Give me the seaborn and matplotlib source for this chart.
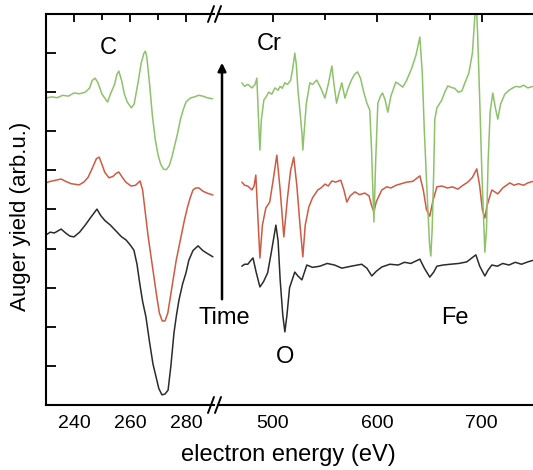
import matplotlib
matplotlib.use("Agg")
import matplotlib.pyplot as plt
from matplotlib.lines import Line2D
from matplotlib.patches import FancyArrowPatch
import numpy as np
import pandas as pd
import seaborn as sns

# ---------------- data ----------------
# Left panel: C KLL region (eV)
c_green_E = [230, 232, 234, 236, 238, 240, 242, 244, 245.5, 246.5, 247.5, 248.5, 250, 251, 252, 253,
             254.5, 255.3, 256, 257, 258, 259, 260.5, 261.5, 262, 263, 264, 265, 265.5, 266, 267,
             268, 269, 270, 271, 272, 273, 274, 275, 276, 277, 278, 279, 280, 281.5, 283, 284.5,
             286, 287.5, 289.5]
c_green_y = [7.85, 7.88, 7.86, 7.92, 7.9, 7.98, 7.96, 8.0, 8.1, 8.3, 8.36, 8.25, 7.95, 7.85, 7.75, 7.95,
             8.2, 8.45, 8.54, 8.3, 7.95, 7.75, 7.6, 7.7, 7.9, 8.3, 8.75, 9.0, 9.05, 8.9, 8.2,
             7.4, 6.8, 6.4, 6.15, 6.03, 6.02, 6.12, 6.35, 6.65, 6.95, 7.3, 7.55, 7.75, 7.85, 7.88, 7.92,
             7.9, 7.86, 7.83]

c_red_E = [230, 231.5, 233, 235.4, 237, 239, 241.8, 243.5, 245, 246.5, 248, 249, 250, 251, 252.5, 254,
           255, 256, 257, 258.5, 260.4, 262, 263.6, 264.5, 265.5, 266.5, 267.5, 268.5, 269.5, 270.5,
           271.5, 272.5, 273.5, 274.5, 275.5, 276.5, 277.5, 278.5, 279.5, 280.5, 281.5, 282.5, 283.5,
           284.6, 286, 287.5, 289.6]
c_red_y = [5.68, 5.72, 5.74, 5.78, 5.72, 5.66, 5.63, 5.7, 5.82, 6.05, 6.3, 6.34, 6.15, 5.95, 5.81, 5.85,
           5.92, 5.96, 5.85, 5.7, 5.60, 5.62, 5.73, 5.5, 4.9, 4.3, 3.8, 3.3, 2.8, 2.35,
           2.15, 2.15, 2.35, 2.8, 3.25, 3.7, 4.05, 4.4, 4.75, 5.05, 5.3, 5.5, 5.55,
           5.55, 5.47, 5.42, 5.37]

c_black_E = [230, 231.5, 233, 235.4, 237, 238.5, 240, 242, 244, 246, 248.2, 249.5, 251, 253, 255, 257,
             258.6, 260, 261.4, 262.5, 263.5, 264.5, 265.7, 267, 268.2, 269.3, 270.3, 271.4, 272.5,
             273.6, 274.6, 275.7, 276.6, 277.5, 278.8, 280, 281, 282.5, 284.3, 286, 287.5, 289.6]
c_black_y = [4.35, 4.42, 4.4, 4.50, 4.4, 4.32, 4.30, 4.42, 4.6, 4.8, 5.01, 4.85, 4.72, 4.6, 4.45, 4.3,
             4.22, 4.1, 3.96, 3.6, 3.1, 2.65, 2.25, 1.6, 1.05, 0.72, 0.42, 0.26, 0.28,
             0.38, 1.0, 1.84, 2.3, 2.69, 3.1, 3.38, 3.7, 3.95, 4.07, 3.95, 3.88, 3.79]

# Right panel: O, Cr, Fe region (eV)
r_green_E = [470.3, 473, 476, 480, 483, 484.7, 486, 487.6, 489, 491.4, 494, 496, 499, 502, 505, 507,
             509, 511.5, 514, 517, 519, 521, 522.5, 524, 526, 527.8, 528.7, 530, 532, 535.4, 538, 542,
             546, 549.8, 553, 556.5, 558.5, 561, 563.5, 566, 569, 572, 575, 578, 581, 584, 587, 590,
             592.8, 594.5, 596.7, 598.5, 600.5, 603, 605, 607.5, 610, 613, 617.7, 621, 624.4, 628,
             633, 637, 640.7, 643, 645, 647.5, 650, 651.2, 652.5, 654, 655, 657, 661.7, 664.5, 667.5,
             671, 674, 677.5, 680.9, 684, 687.6, 691, 693, 694.5, 696, 698, 700, 702.9, 704.5, 706,
             708, 710.5, 713, 715.3, 718, 722, 726, 729.7, 733, 736.4, 740, 744, 749]
r_green_y = [8.24, 8.15, 8.2, 8.11, 8.2, 8.36, 7.5, 6.52, 7.3, 7.80, 7.9, 8.0, 7.95, 8.11, 8.05, 8.15,
             8.1, 8.24, 8.2, 8.3, 8.6, 9.00, 8.7, 8.06, 7.5, 6.96, 6.52, 7.0, 7.7, 8.24, 8.2, 8.31,
             8.1, 7.85, 8.2, 8.67, 8.2, 7.72, 8.0, 8.24, 7.85, 8.1, 8.3, 8.45, 8.52, 8.35, 8.0, 7.72,
             7.54, 6.5, 4.68, 6.3, 7.72, 7.9, 7.98, 7.8, 7.49, 7.9, 8.26, 8.2, 8.13, 8.3,
             8.62, 8.95, 9.41, 8.5, 7.0, 5.5, 4.1, 3.81, 4.5, 6.0, 7.3, 7.6, 7.80, 8.0, 8.16,
             8.12, 8.1, 8.0, 8.03, 8.25, 8.49, 9.0, 9.8, 10.4, 9.5, 7.8, 6.0, 3.91, 4.5, 6.2,
             7.5, 7.98, 7.6, 7.31, 7.7, 7.95, 8.05, 8.11, 8.15, 8.13, 8.18, 8.11, 8.15]

r_red_E = [470.3, 473, 476, 480, 482, 483.7, 485.5, 487.6, 490, 493.3, 497, 500, 503.8, 507, 510.5,
           514, 517, 520, 523, 526, 528.7, 531, 534.4, 538, 543, 546, 550, 553, 556.5, 560, 565,
           568, 570.8, 574, 578.5, 583, 588, 592, 594.5, 596.7, 599, 604.3, 609, 613, 618, 623,
           628.2, 634, 640.7, 644, 647, 650.2, 653, 657, 662, 667, 672, 677, 682, 686.6, 691, 695.2,
           698, 700.5, 702.9, 705, 709.6, 715.3, 720, 726.8, 731, 735, 740, 744, 749]
r_red_y = [5.70, 5.62, 5.6, 5.50, 5.6, 5.88, 4.9, 3.76, 4.6, 5.04, 5.19, 5.7, 6.39, 5.5, 4.30,
           5.3, 6.0, 6.34, 5.6, 4.6, 3.79, 4.6, 5.06, 5.3, 5.50, 5.55, 5.65, 5.6, 5.73, 5.7, 5.75,
           5.5, 5.19, 5.35, 5.45, 5.38, 5.42, 5.35, 5.1, 4.94, 5.2, 5.50, 5.58, 5.55, 5.62, 5.66,
           5.70, 5.72, 5.86, 5.5, 5.0, 4.83, 5.2, 5.58, 5.6, 5.55, 5.58, 5.52, 5.62, 5.70, 5.82, 6.04,
           5.6, 5.0, 4.78, 5.1, 5.50, 5.40, 5.55, 5.68, 5.62, 5.66, 5.62, 5.68, 5.72]

r_black_E = [470.3, 473, 476, 479, 481, 484, 487.6, 491, 495, 498.5, 502.9, 505, 507, 509.5, 511.5,
             513.5, 516, 521, 524, 527.8, 532.5, 538, 545, 552, 559, 566, 575, 585, 590, 594.7, 599,
             604.3, 612, 620, 626, 632, 640.7, 645, 650.2, 654, 657, 663, 670, 678, 685.6, 694.3,
             698, 702.9, 706, 709.6, 715, 720, 726, 732, 738, 744, 749]
r_black_y = [3.55, 3.6, 3.6, 3.7, 3.76, 3.4, 3.02, 3.15, 3.38, 3.9, 4.60, 4.2, 3.2, 2.3, 1.87,
             2.3, 3.0, 3.40, 3.3, 3.20, 3.58, 3.52, 3.55, 3.62, 3.58, 3.5, 3.55, 3.6, 3.5, 3.30, 3.42,
             3.53, 3.6, 3.58, 3.65, 3.62, 3.73, 3.5, 3.27, 3.4, 3.55, 3.58, 3.6, 3.62, 3.66, 3.84,
             3.55, 3.30, 3.45, 3.58, 3.55, 3.62, 3.58, 3.65, 3.6, 3.66, 3.7]

left_ticks = [240, 260, 280]
left_minor = [250, 270]
right_ticks = [500, 600, 700]
right_minor = [550, 650]

GREEN = "#8dc26a"
RED = "#cf5a43"
BLACK = "#2b2b2b"

# ---------------- style ----------------
sns.set_style("white")
plt.rcParams['font.family'] = ['Liberation Sans', 'DejaVu Sans']
plt.rcParams['text.color'] = 'black'
plt.rcParams['xtick.color'] = 'black'
plt.rcParams['ytick.color'] = 'black'

W, H = 533, 470
fig = plt.figure(figsize=(W / 100, H / 100), dpi=100)

bot, top = 65 / H, 391 / H
axL = fig.add_axes([46 / W, bot, (214 - 46) / W, top])
axR = fig.add_axes([218 / W, bot, (W - 218) / W, top])

for E, y, col in [(c_black_E, c_black_y, BLACK), (c_red_E, c_red_y, RED), (c_green_E, c_green_y, GREEN)]:
    sns.lineplot(x=E, y=y, ax=axL, color=col, lw=1.1, sort=False, estimator=None)
for E, y, col in [(r_black_E, r_black_y, BLACK), (r_red_E, r_red_y, RED), (r_green_E, r_green_y, GREEN)]:
    sns.lineplot(x=E, y=y, ax=axR, color=col, lw=1.1, sort=False, estimator=None)

axL.set_xlim(230, 290)
axR.set_xlim(447.5, 749)
for ax in (axL, axR):
    ax.set_ylim(0, 10)
    ax.set_xlabel("")
    ax.set_ylabel("")
    for s in ax.spines.values():
        s.set_linewidth(1.5)
        s.set_color("black")
    ax.spines["right"].set_visible(False)
    ax.tick_params(axis="x", which="major", direction="in", top=True, length=6, width=1.3,
                   labelsize=14, pad=7, colors="black", labelcolor="black")
    ax.tick_params(axis="x", which="minor", direction="in", top=True, length=4, width=1.3)

axL.set_xticks(left_ticks)
axL.set_xticks(left_minor, minor=True)
axR.set_xticks(right_ticks)
axR.set_xticks(right_minor, minor=True)

axL.set_yticks(range(1, 10))
axL.set_yticklabels([])
axL.tick_params(axis="y", direction="in", left=True, length=7, width=1.3)
axR.spines["left"].set_visible(False)
axR.set_yticks([])

# break marks
for yb in (405, 14):
    for xb in (211, 218):
        fig.add_artist(Line2D([(xb - 3) / W, (xb + 3) / W], [(H - yb - 8) / H, (H - yb + 8) / H],
                              color="black", lw=1.4))

# labels
fig.text(288 / W, 1 - 455 / H, "electron energy (eV)", ha="center", va="center", fontsize=17, color="black")
fig.text(21 / W, 1 - 216 / H, "Auger yield (arb.u.)", ha="center", va="center", rotation=90,
         fontsize=16, color="black")

for txt, x, y in [("C", 108, 48), ("Cr", 269, 44), ("Time", 224, 318), ("O", 285, 357), ("Fe", 455, 318)]:
    fig.text(x / W, 1 - y / H, txt, ha="center", va="center", fontsize=17, color="black")

fig.add_artist(FancyArrowPatch((222 / W, 1 - 302 / H), (222 / W, 1 - 60 / H),
                               transform=fig.transFigure, arrowstyle="-|>",
                               mutation_scale=12, color="black", lw=1.8))

fig.savefig("out.png", dpi=100)
